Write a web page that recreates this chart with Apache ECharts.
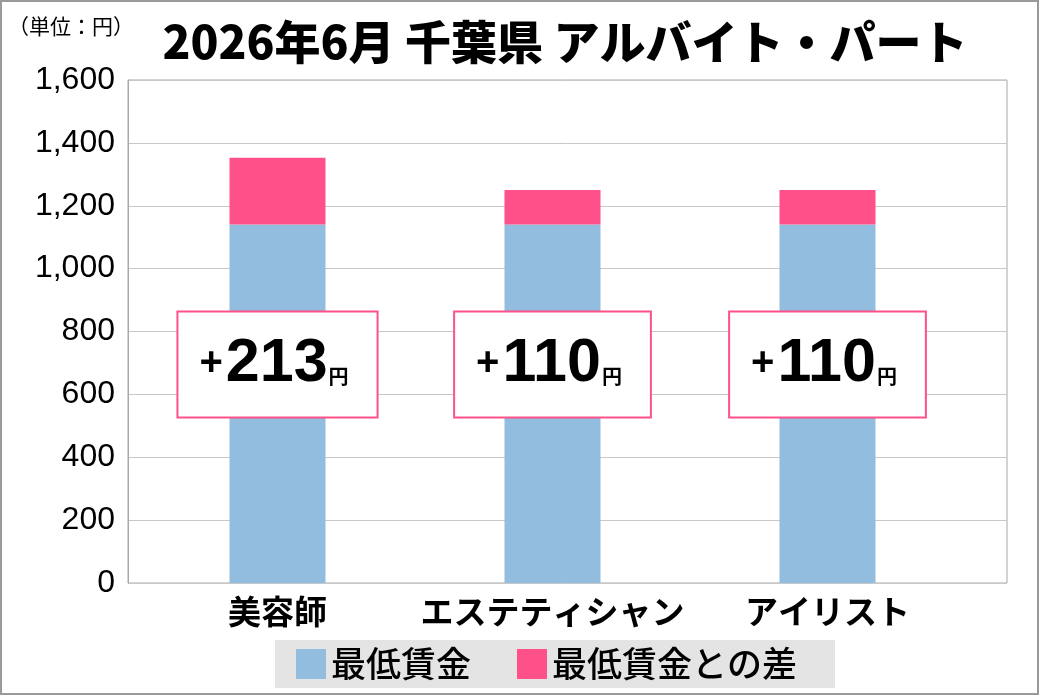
<!DOCTYPE html>
<html lang="ja">
<head>
<meta charset="UTF-8">
<title>2026年6月 千葉県 アルバイト・パート</title>
<script src="https://cdn.jsdelivr.net/npm/echarts@6/dist/echarts.min.js"></script>
<style>
    html, body { margin: 0; padding: 0; background: #fff; }
    #chart { width: 1040px; height: 696px; }
</style>
</head>
<body>
<div id="chart"></div>
<script>
    // 職種と時給データ（単位：円）
    var categories = ['美容師', 'エステティシャン', 'アイリスト'];
    var minimumWage = [1140, 1140, 1140];   // 最低賃金
    var wageDiff = [213, 110, 110];         // 最低賃金との差
    var yMin = 0, yMax = 1600, yStep = 200;

    var BLUE = '#92bddf';
    var PINK = '#fe5189';
    var JP = '"Noto Sans CJK JP", sans-serif';
    var NUM = '"Liberation Sans", Arial, sans-serif';

    var chart = echarts.init(document.getElementById('chart'));

    var option = {
        animation: false,
        title: {
            text: '2026年6月 千葉県 アルバイト・パート',
            left: 560,
            top: 14,
            textAlign: 'center',
            textStyle: { fontFamily: JP, fontSize: 46, fontWeight: 900, color: '#000' }
        },
        graphic: [{
            type: 'rect',
            shape: { x: 1, y: 1, width: 1037, height: 693 },
            style: { fill: 'none', stroke: '#9a9a9a', lineWidth: 2 },
            silent: true
        }, {
            type: 'text',
            left: 8,
            top: 16,
            style: { text: '（単位：円）', font: '21px ' + JP, fill: '#000' }
        }],
        legend: {
            data: ['最低賃金', '最低賃金との差'],
            left: 275,
            top: 640,
            backgroundColor: '#e4e4e4',
            padding: [6, 38, 6, 21],
            icon: 'rect',
            itemWidth: 30,
            itemHeight: 30,
            itemGap: 46,
            textStyle: { fontFamily: JP, fontSize: 35, fontWeight: 500, color: '#000', lineHeight: 36 }
        },
        grid: [{
            // 目盛線・枠
            left: 128, right: 33, top: 80, bottom: 113,
            show: true, borderColor: '#a8a8a8', borderWidth: 1
        }, {
            // 棒グラフ
            left: 140, width: 825, top: 80, bottom: 113
        }],
        xAxis: [{
            gridIndex: 0,
            type: 'category',
            data: [''],
            axisLine: { show: false },
            axisTick: { show: false },
            axisLabel: { show: false }
        }, {
            gridIndex: 1,
            type: 'category',
            data: categories,
            axisLine: { show: false },
            axisTick: { show: false },
            axisLabel: {
                interval: 0,
                margin: 12,
                fontFamily: JP,
                fontSize: 33,
                fontWeight: 'bold',
                color: '#000'
            }
        }],
        yAxis: [{
            gridIndex: 0,
            type: 'value',
            min: yMin, max: yMax, interval: yStep,
            axisLine: { show: true, lineStyle: { color: '#a8a8a8' } },
            axisTick: { show: false },
            axisLabel: {
                margin: 13,
                fontFamily: NUM,
                fontSize: 32,
                color: '#000',
                formatter: function (v) { return v.toLocaleString('en-US'); }
            },
            splitLine: { lineStyle: { color: '#c8c8c8', width: 1 } }
        }, {
            gridIndex: 1,
            type: 'value',
            min: yMin, max: yMax, interval: yStep,
            show: false,
            splitLine: { show: false }
        }],
        series: [{
            name: '最低賃金',
            type: 'bar',
            xAxisIndex: 1,
            yAxisIndex: 1,
            stack: 'wage',
            barWidth: 96,
            itemStyle: { color: BLUE },
            data: minimumWage,
            label: {
                show: true,
                position: ['50%', '39%'],
                align: 'center',
                verticalAlign: 'middle',
                backgroundColor: '#fff',
                borderColor: PINK,
                borderWidth: 2,
                padding: [21, 28, 21, 21],
                formatter: function (p) {
                    return '{p|+}{n|' + wageDiff[p.dataIndex] + '}{y|円}';
                },
                rich: {
                    p: { fontFamily: NUM, fontSize: 40, fontWeight: 'bold', color: '#000', lineHeight: 62, padding: [0, 3, 0, 0] },
                    n: { fontFamily: NUM, fontSize: 61, fontWeight: 'bold', color: '#000', lineHeight: 62 },
                    y: { fontFamily: JP, fontSize: 20, fontWeight: 'bold', color: '#000', lineHeight: 30, verticalAlign: 'bottom', padding: [0, 0, 9, 1] }
                }
            }
        }, {
            name: '最低賃金との差',
            type: 'bar',
            xAxisIndex: 1,
            yAxisIndex: 1,
            stack: 'wage',
            barWidth: 96,
            itemStyle: { color: PINK },
            data: wageDiff
        }]
    };

    chart.setOption(option);
</script>
</body>
</html>
